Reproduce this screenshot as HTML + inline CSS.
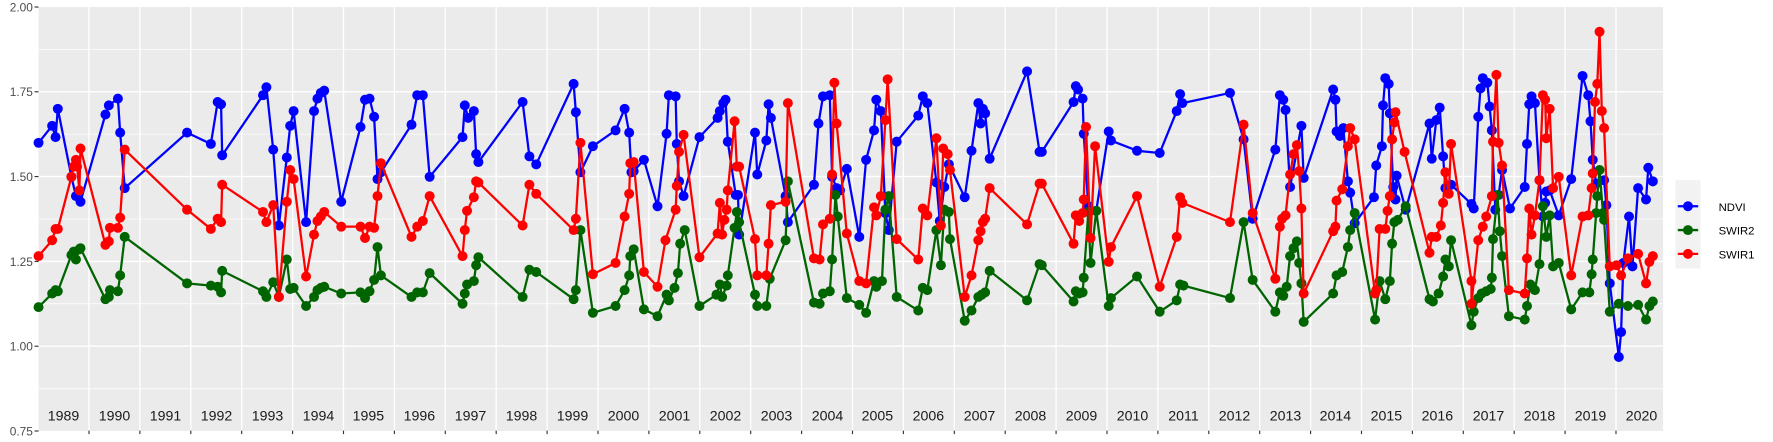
<!DOCTYPE html>
<html><head><meta charset="utf-8"><style>
html,body{margin:0;padding:0;background:#fff}
svg{display:block}
text{font-family:"Liberation Sans",sans-serif}
</style></head><body>
<svg width="1773" height="442" viewBox="0 0 1564 390" preserveAspectRatio="none">
<defs>
<marker id="mb" markerUnits="userSpaceOnUse" markerWidth="10" markerHeight="10" refX="5" refY="5"><circle cx="5" cy="5" r="4.4" fill="#0000FF"/></marker>
<marker id="mg" markerUnits="userSpaceOnUse" markerWidth="10" markerHeight="10" refX="5" refY="5"><circle cx="5" cy="5" r="4.4" fill="#006400"/></marker>
<marker id="mr" markerUnits="userSpaceOnUse" markerWidth="10" markerHeight="10" refX="5" refY="5"><circle cx="5" cy="5" r="4.4" fill="#FF0000"/></marker>
</defs>
<rect x="34" y="6.2" width="1433" height="374.1" fill="#EBEBEB"/>
<g stroke="#fff" stroke-width="0.6">
<line x1="34" x2="1467" y1="43.6" y2="43.6"/><line x1="34" x2="1467" y1="118.4" y2="118.4"/><line x1="34" x2="1467" y1="193.3" y2="193.3"/><line x1="34" x2="1467" y1="268" y2="268"/><line x1="34" x2="1467" y1="343" y2="343"/>
</g>
<g stroke="#fff" stroke-width="1.2">
<line x1="34" x2="1467" y1="81" y2="81"/><line x1="34" x2="1467" y1="155.8" y2="155.8"/><line x1="34" x2="1467" y1="230.7" y2="230.7"/><line x1="34" x2="1467" y1="305.5" y2="305.5"/>
<line x1="78.5" x2="78.5" y1="6" y2="380"/><line x1="123.4" x2="123.4" y1="6" y2="380"/><line x1="168.3" x2="168.3" y1="6" y2="380"/><line x1="213.2" x2="213.2" y1="6" y2="380"/><line x1="258.1" x2="258.1" y1="6" y2="380"/><line x1="303" x2="303" y1="6" y2="380"/><line x1="347.9" x2="347.9" y1="6" y2="380"/><line x1="392.8" x2="392.8" y1="6" y2="380"/><line x1="437.7" x2="437.7" y1="6" y2="380"/><line x1="482.6" x2="482.6" y1="6" y2="380"/><line x1="527.5" x2="527.5" y1="6" y2="380"/><line x1="572.4" x2="572.4" y1="6" y2="380"/><line x1="617.3" x2="617.3" y1="6" y2="380"/><line x1="662.2" x2="662.2" y1="6" y2="380"/><line x1="707.1" x2="707.1" y1="6" y2="380"/><line x1="752" x2="752" y1="6" y2="380"/><line x1="796.9" x2="796.9" y1="6" y2="380"/><line x1="841.8" x2="841.8" y1="6" y2="380"/><line x1="886.7" x2="886.7" y1="6" y2="380"/><line x1="931.6" x2="931.6" y1="6" y2="380"/><line x1="976.5" x2="976.5" y1="6" y2="380"/><line x1="1021.4" x2="1021.4" y1="6" y2="380"/><line x1="1066.3" x2="1066.3" y1="6" y2="380"/><line x1="1111.2" x2="1111.2" y1="6" y2="380"/><line x1="1156.1" x2="1156.1" y1="6" y2="380"/><line x1="1201" x2="1201" y1="6" y2="380"/><line x1="1245.9" x2="1245.9" y1="6" y2="380"/><line x1="1290.8" x2="1290.8" y1="6" y2="380"/><line x1="1335.7" x2="1335.7" y1="6" y2="380"/><line x1="1380.6" x2="1380.6" y1="6" y2="380"/><line x1="1425.5" x2="1425.5" y1="6" y2="380"/>
</g>
<g stroke="#333" stroke-width="1">
<line x1="30.5" x2="34" y1="6.2" y2="6.2"/><line x1="30.5" x2="34" y1="81" y2="81"/><line x1="30.5" x2="34" y1="155.8" y2="155.8"/><line x1="30.5" x2="34" y1="230.7" y2="230.7"/><line x1="30.5" x2="34" y1="305.5" y2="305.5"/><line x1="30.5" x2="34" y1="380.3" y2="380.3"/>
<path d="M78.5 380v3M123.4 380v3M168.3 380v3M213.2 380v3M258.1 380v3M303 380v3M347.9 380v3M392.8 380v3M437.7 380v3M482.6 380v3M527.5 380v3M572.4 380v3M617.3 380v3M662.2 380v3M707.1 380v3M752 380v3M796.9 380v3M841.8 380v3M886.7 380v3M931.6 380v3M976.5 380v3M1021.4 380v3M1066.3 380v3M1111.2 380v3M1156.1 380v3M1201 380v3M1245.9 380v3M1290.8 380v3M1335.7 380v3M1380.6 380v3M1425.5 380v3"/>
</g>
<g font-size="10.5" fill="#4D4D4D" text-anchor="end">
<text x="29" y="10">2.00</text><text x="29" y="84.8">1.75</text><text x="29" y="159.6">1.50</text><text x="29" y="234.5">1.25</text><text x="29" y="309.3">1.00</text><text x="29" y="384.1">0.75</text>
</g>
<g font-size="12.5" fill="#1A1A1A" text-anchor="middle">
<text x="56" y="371">1989</text><text x="101" y="371">1990</text><text x="146" y="371">1991</text><text x="191" y="371">1992</text><text x="236" y="371">1993</text><text x="281" y="371">1994</text><text x="325" y="371">1995</text><text x="370" y="371">1996</text><text x="415" y="371">1997</text><text x="460" y="371">1998</text><text x="505" y="371">1999</text><text x="550" y="371">2000</text><text x="595" y="371">2001</text><text x="640" y="371">2002</text><text x="685" y="371">2003</text><text x="730" y="371">2004</text><text x="774" y="371">2005</text><text x="819" y="371">2006</text><text x="864" y="371">2007</text><text x="909" y="371">2008</text><text x="954" y="371">2009</text><text x="999" y="371">2010</text><text x="1044" y="371">2011</text><text x="1089" y="371">2012</text><text x="1134" y="371">2013</text><text x="1178" y="371">2014</text><text x="1223" y="371">2015</text><text x="1268" y="371">2016</text><text x="1313" y="371">2017</text><text x="1358" y="371">2018</text><text x="1403" y="371">2019</text><text x="1448" y="371">2020</text>
</g>
<g fill="none" stroke-width="2" stroke-linejoin="round">
<polyline stroke="#0000FF" marker-start="url(#mb)" marker-mid="url(#mb)" marker-end="url(#mb)" points="34,126 46,111 49,121 51,96 63,156 67,173 71,178 93,101 96,93 104,87 106,117 110,166 165,117 186,127 192,90 195,92 196,137 232,84 235,77 241,132 246,199 253,139 256,111 259,98 270,196 277,98 280,87 283,82 286,80 301,178 318,112 322,88 326,87 330,103 333,158 336,152 363,110 368,84 373,84 379,156 408,121 410,93 413,104 418,98 420,136 422,143 461,90 467,138 473,145 506,74 508,99 512,152 523,129 543,115 551,96 555,117 557,152 559,151 568,141 580,182 588,118 590,84 596,85 597,127 599,160 603,173 617,121 633,104 635,98 638,91 640,88 642,125 649,172 651,172 652,207 666,117 668,154 676,124 678,92 680,104 693,173 695,196 718,163 722,109 726,85 732,84 734,156 738,166 741,168 747,149 758,209 764,141 771,115 773,88 777,98 781,188 784,203 791,125 810,102 814,85 818,91 826,161 829,195 833,165 837,145 851,174 857,133 863,91 865,109 867,96 869,100 873,140 906,63 917,134 919,134 947,90 949,76 951,79 955,87 956,118 960,182 967,186 978,116 980,124 1003,133 1023,135 1038,98 1041,83 1043,91 1085,82 1097,123 1105,193 1125,132 1129,84 1132,88 1134,97 1138,165 1148,111 1150,157 1176,79 1178,88 1179,116 1182,120 1185,113 1189,160 1191,170 1195,197 1212,174 1214,146 1219,129 1220,93 1222,69 1225,74 1226,100 1229,165 1231,176 1232,155 1240,185 1261,109 1263,140 1267,106 1270,95 1273,138 1275,166 1280,163 1298,180 1300,184 1304,103 1306,78 1308,69 1312,73 1314,94 1316,115 1319,185 1322,172 1325,150 1332,184 1345,165 1347,127 1349,92 1351,85 1354,91 1358,159 1361,191 1363,179 1364,169 1367,168 1375,190 1386,158 1396,67 1401,84 1403,107 1405,141 1408,162 1415,159 1417,181 1420,250 1428,315 1430,293 1432,232 1437,191 1440,235 1445,166 1452,176 1454,148 1458,160"/>
<polyline stroke="#006400" marker-start="url(#mg)" marker-mid="url(#mg)" marker-end="url(#mg)" points="34,271 46,259 49,256 51,257 63,225 65,222 67,229 70,220 71,219 93,264 96,262 97,256 104,257 106,243 110,209 165,250 186,252 192,253 195,258 196,239 232,257 235,262 241,249 246,262 253,229 256,255 259,254 270,270 277,262 280,256 283,254 286,253 301,259 318,258 322,263 326,257 330,247 333,218 336,243 363,262 368,258 373,258 379,241 408,268 410,259 412,251 418,248 420,234 422,227 461,262 467,238 473,240 506,264 508,256 512,203 523,276 543,270 551,256 555,243 556,226 559,220 568,273 580,279 588,260 590,265 595,254 598,241 600,215 604,203 617,270 632,260 635,251 637,262 641,252 642,243 648,201 650,187 652,196 666,260 668,270 676,270 679,246 693,212 695,160 718,267 723,268 726,259 732,257 734,229 737,172 739,191 747,263 758,269 764,276 771,248 773,253 778,248 781,185 784,173 791,262 810,274 814,254 818,256 826,203 830,234 833,185 837,187 838,211 851,283 857,274 863,262 866,260 869,258 873,239 906,265 917,233 919,234 947,266 949,257 952,259 955,258 956,245 960,187 962,232 967,186 978,270 980,263 1003,244 1023,275 1038,265 1041,251 1044,252 1085,263 1097,196 1105,247 1125,275 1129,258 1132,261 1135,253 1138,226 1141,219 1144,213 1146,232 1148,250 1150,284 1176,259 1179,243 1184,240 1189,218 1191,203 1195,188 1213,282 1217,248 1222,264 1226,248 1228,215 1230,196 1233,194 1240,182 1261,264 1264,266 1269,259 1273,244 1275,229 1278,235 1280,212 1298,287 1300,275 1304,263 1307,259 1311,257 1315,255 1316,245 1317,211 1321,172 1323,204 1325,226 1331,279 1345,282 1347,270 1350,251 1354,256 1358,233 1361,182 1364,209 1367,190 1370,235 1375,232 1386,273 1396,258 1402,258 1404,242 1405,229 1408,188 1409,173 1411,150 1414,188 1415,194 1420,275 1428,268 1436,270 1445,269 1452,282 1455,270 1458,266"/>
<polyline stroke="#FF0000" marker-start="url(#mr)" marker-mid="url(#mr)" marker-end="url(#mr)" points="34,226 46,212 49,202 51,202 63,156 65,147 67,141 68,147 70,168 71,131 93,216 96,213 97,201 104,201 106,192 110,132 165,185 186,202 192,193 195,196 196,163 232,187 235,196 241,181 246,262 253,178 256,150 259,158 270,244 277,207 280,195 283,191 286,187 301,200 318,200 322,210 326,200 330,201 333,173 336,144 363,209 368,200 373,195 379,173 408,226 410,203 412,186 418,174 420,160 422,161 461,199 467,163 473,171 506,203 508,193 512,126 523,242 543,232 551,191 555,171 556,144 559,143 568,240 580,253 587,212 596,185 597,164 599,134 603,119 617,227 633,206 635,179 637,207 639,194 641,185 642,168 648,107 650,147 652,147 666,211 668,243 676,243 678,215 680,181 693,178 695,91 718,228 723,229 726,198 732,193 734,154 736,73 738,109 747,206 758,248 764,250 771,183 773,190 777,173 781,106 783,70 791,211 810,229 814,184 818,190 826,122 830,199 832,131 836,136 838,150 851,262 857,243 863,212 865,204 867,196 869,193 873,166 906,198 917,162 919,162 947,215 949,190 952,195 955,188 956,176 958,112 962,210 966,129 978,231 980,218 1003,173 1023,253 1038,209 1041,174 1043,179 1085,196 1097,110 1105,188 1125,246 1129,200 1131,193 1134,190 1138,154 1141,136 1144,128 1146,151 1148,184 1150,259 1176,204 1178,200 1179,177 1184,167 1189,129 1191,113 1195,123 1213,259 1214,256 1217,202 1222,202 1224,186 1226,173 1228,123 1230,108 1231,99 1239,134 1261,223 1263,209 1267,209 1271,199 1273,179 1275,152 1278,171 1280,127 1298,248 1298,268 1304,212 1308,200 1311,191 1316,173 1317,125 1320,66 1322,126 1325,146 1331,256 1345,259 1347,228 1349,184 1351,207 1354,190 1358,159 1361,84 1363,88 1364,122 1367,96 1370,166 1375,156 1386,243 1396,191 1401,190 1404,166 1405,153 1407,90 1409,74 1411,28 1413,98 1415,113 1420,235 1426,234 1430,243 1436,228 1445,224 1452,250 1455,231 1458,226"/>
</g>
<rect x="1478" y="159" width="22" height="78" fill="#F2F2F2"/>
<g stroke-width="2">
<line x1="1480" x2="1498" y1="182" y2="182" stroke="#0000FF"/><circle cx="1489" cy="182" r="4.4" fill="#0000FF"/>
<line x1="1480" x2="1498" y1="203" y2="203" stroke="#006400"/><circle cx="1489" cy="203" r="4.4" fill="#006400"/>
<line x1="1480" x2="1498" y1="224" y2="224" stroke="#FF0000"/><circle cx="1489" cy="224" r="4.4" fill="#FF0000"/>
</g>
<g font-size="10" fill="#000">
<text x="1516" y="186">NDVI</text><text x="1516" y="207">SWIR2</text><text x="1516" y="228">SWIR1</text>
</g>
</svg>
</body></html>
